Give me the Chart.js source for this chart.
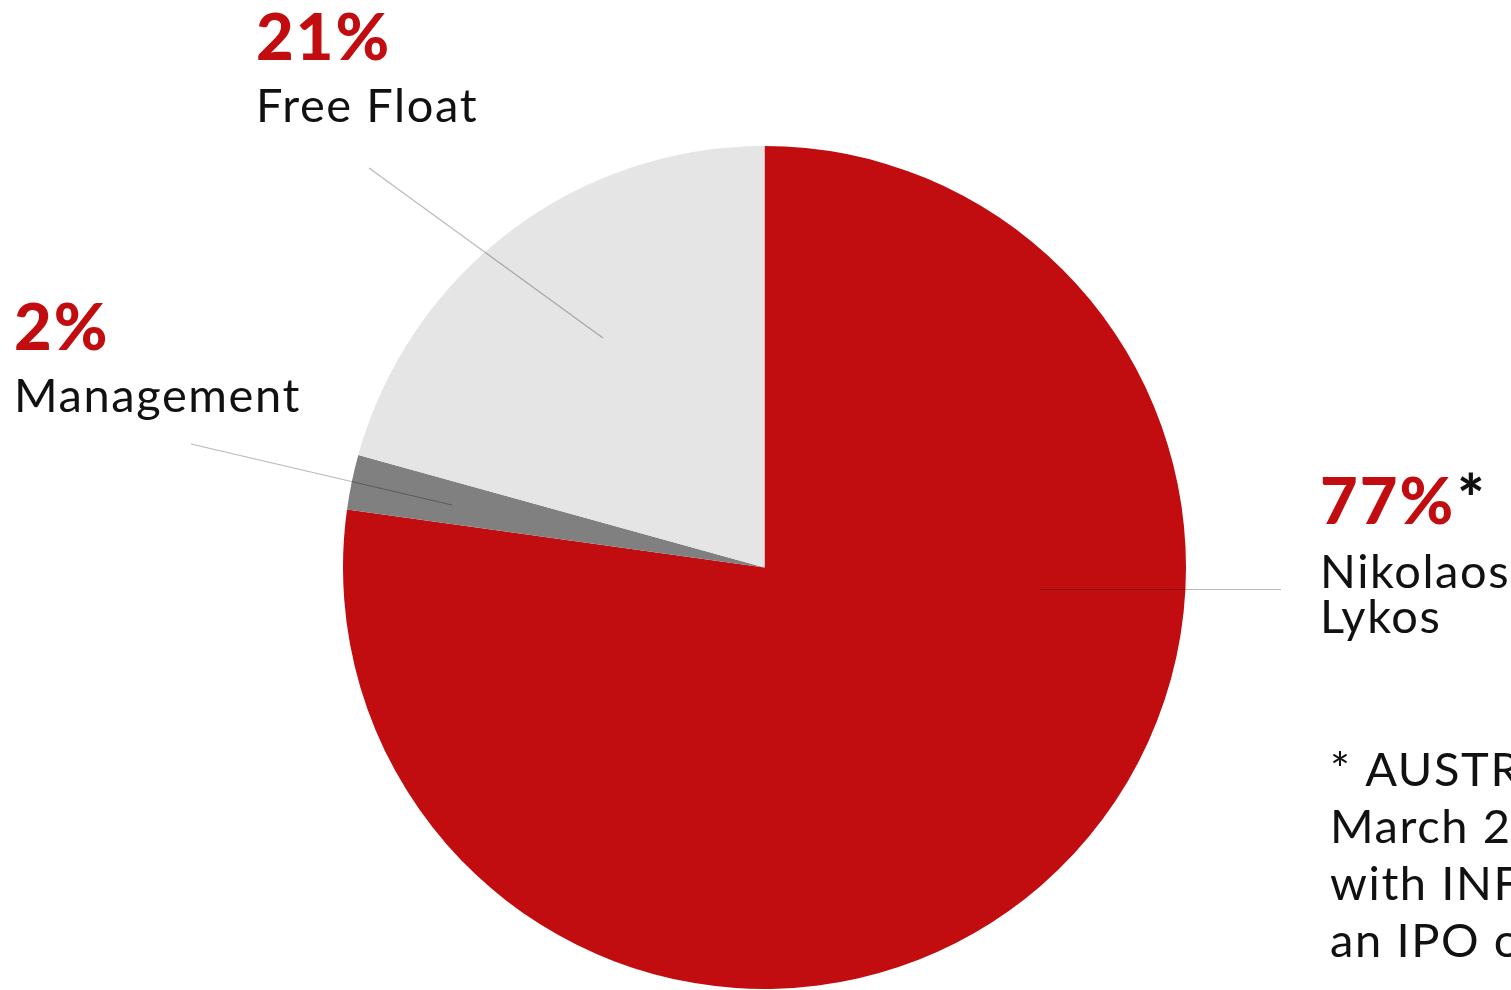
<!DOCTYPE html>
<html>
<head>
<meta charset="utf-8">
<script src="https://cdn.jsdelivr.net/npm/chart.js@4"></script>
<style>
html,body{margin:0;padding:0;background:#fff;overflow:hidden;}
#wrap{width:1511px;height:990px;position:relative;}
</style>
</head>
<body>
<div id="wrap"><canvas id="c" width="1511" height="990"></canvas></div>
<script>
const categories = ["Nikolaos Lykos", "Management", "Free Float"];
const shares = [77.2, 2.1, 20.7];
const percentLabels = ["77%", "2%", "21%"];
const sliceColors = ["#c10d10", "#808080", "#e5e5e5"];
const footnoteLines = ["* AUSTRIACARD HOLDINGS AG", "March 2022 merger", "with INFORM P. LYKOS", "an IPO on the Athens Exchange"];

const RED = "#c10d10";
const FONT = "Lato, 'Open Sans', sans-serif";

const labelPlugin = {
  id: 'labels',
  afterDraw(chart) {
    const ctx = chart.ctx;
    ctx.save();
    ctx.strokeStyle = 'rgba(0,0,0,0.28)';
    ctx.lineWidth = 1.2;
    const lines = [
      [[1040, 589.5], [1281, 589.5]],
      [[191, 444], [452, 505]],
      [[369, 168], [603, 338]]
    ];
    lines.forEach(l => {
      ctx.beginPath(); ctx.moveTo(l[0][0], l[0][1]); ctx.lineTo(l[1][0], l[1][1]); ctx.stroke();
    });
    ctx.textBaseline = 'alphabetic';
    ctx.textAlign = 'left';
    const pos = [
      {x: 1320, pct: 524, names: [588, 633], nameLines: ["Nikolaos", "Lykos"], star: true},
      {x: 14, pct: 350, names: [412], nameLines: [categories[1]]},
      {x: 256, pct: 60, names: [122], nameLines: [categories[2]]}
    ];
    pos.forEach((p, i) => {
      ctx.font = "900 65px " + FONT;
      ctx.letterSpacing = "2px";
      ctx.fillStyle = RED;
      ctx.fillText(percentLabels[i], p.x, p.pct);
      if (p.star) {
        const w = ctx.measureText(percentLabels[i]).width;
        ctx.font = "900 64px " + FONT;
        ctx.letterSpacing = "0px";
        ctx.fillStyle = '#111';
        ctx.fillText("*", p.x + w + 2, p.pct - 2);
      }
      ctx.font = "400 47px " + FONT;
      ctx.letterSpacing = "1.6px";
      ctx.fillStyle = '#111';
      p.nameLines.forEach((t, j) => ctx.fillText(t, p.x, p.names[j]));
    });
    ctx.font = "400 47px " + FONT;
    ctx.letterSpacing = "1.6px";
    ctx.fillStyle = '#111';
    footnoteLines.forEach((t, j) => ctx.fillText(t, 1330, 786 + j * 57));
    ctx.restore();
  }
};

new Chart(document.getElementById('c'), {
  type: 'pie',
  data: {
    labels: categories,
    datasets: [{
      data: shares,
      backgroundColor: sliceColors,
      borderWidth: 0
    }]
  },
  options: {
    responsive: false,
    animation: false,
    layout: {padding: {left: 343, right: 325, top: 146, bottom: 1}},
    plugins: {legend: {display: false}, tooltip: {enabled: false}}
  },
  plugins: [labelPlugin]
});
</script>
</body>
</html>
